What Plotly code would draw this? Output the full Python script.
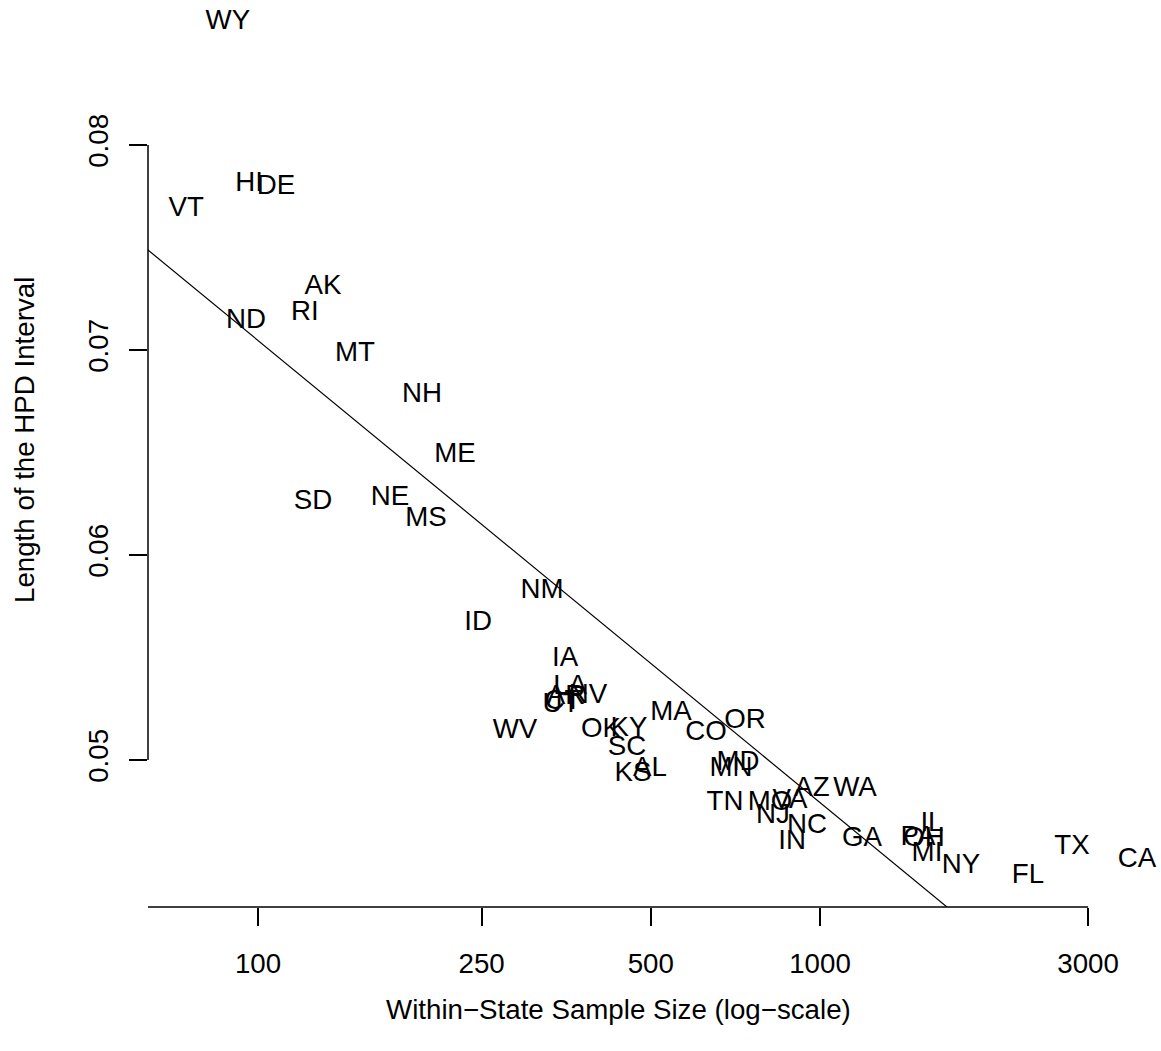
import numpy as np
import plotly.graph_objects as go

states = ["WY","HI","DE","VT","AK","RI","ND","MT","NH","ME","SD","NE","MS","NM","ID",
          "IA","LA","AR","UT","CT","NV","WV","OK","KY","MA","SC","AL","KS","CO","OR",
          "MD","MN","TN","MO","VA","AZ","WA","NJ","NC","IN","GA","IL","PA","OH","MI",
          "NY","FL","TX","CA"]
sample_size = [88.4, 96.4, 107.7, 74.5, 130.5, 121.2, 95.2, 148.8, 195.8, 224.1, 125.3, 171.7, 199.1, 320.2, 246.4,
               351.9, 359.2, 353.2, 346.0, 349.0, 386.6, 286.6, 407.7, 457.2, 543.0, 453.5, 498.3, 464.9, 626.7, 735.7,
               714.6, 694.4, 677.6, 814.7, 884.5, 967.8, 1154, 824.8, 948.2, 891.9, 1188, 1582, 1494, 1531, 1550,
               1782, 2345, 2808, 3665]
hpd_length = [0.08600, 0.07810, 0.07795, 0.07688, 0.07307, 0.07180, 0.07141, 0.06980, 0.06780, 0.06488, 0.06258, 0.06278, 0.06175, 0.05824, 0.05668,
              0.05492, 0.05356, 0.05307, 0.05268, 0.05283, 0.05312, 0.05141, 0.05146, 0.05151, 0.05229, 0.05058, 0.04956, 0.04931, 0.05131, 0.05190,
              0.04985, 0.04956, 0.04790, 0.04790, 0.04800, 0.04858, 0.04858, 0.04727, 0.04678, 0.04600, 0.04614, 0.04688, 0.04620, 0.04614, 0.04541,
              0.04483, 0.04434, 0.04575, 0.04512]

fit_intercept = 0.11555
fit_slope = -0.022542  # per log10 unit

x_ticks = [100, 250, 500, 1000, 3000]
y_ticks = [0.05, 0.06, 0.07, 0.08]

FONT = "Liberation Sans, Arial, Helvetica, sans-serif"
FS = 27.7

# body margin removed by post_script, so figure coordinates = page coordinates
W, H = 1161, 1051
ml, mr, mt, mb = 148, 0, 0, 144
xr = [1.8043, 3.6068]
yr = [0.04283, 0.087073]
pw, ph = W - ml - mr, H - mt - mb

fig = go.Figure()

lx = np.logspace(1.70, 3.7, 50)
ly = fit_intercept + fit_slope * np.log10(lx)
fig.add_trace(go.Scatter(x=lx, y=ly, mode="lines", line=dict(color="black", width=1.2),
                         hoverinfo="skip", showlegend=False))

fig.add_trace(go.Scatter(x=sample_size, y=hpd_length, mode="text", text=states,
                         textposition="middle center",
                         textfont=dict(family=FONT, size=FS, color="black"),
                         cliponaxis=False, showlegend=False))

# axis lines (R style)
fig.add_shape(type="line", xref="paper", yref="y", x0=0, x1=0, y0=y_ticks[0], y1=y_ticks[-1],
              line=dict(color="black", width=1.5))
x_end = (np.log10(x_ticks[-1]) - xr[0]) / (xr[1] - xr[0])
fig.add_shape(type="line", xref="paper", yref="paper", x0=0, x1=x_end, y0=0, y1=0,
              line=dict(color="black", width=1.5))

fig.update_xaxes(type="log", range=xr, tickvals=x_ticks, ticktext=[str(v) for v in x_ticks],
                 ticks="outside", ticklen=18, tickwidth=1.5, tickcolor="black",
                 showgrid=False, zeroline=False, showline=False,
                 tickfont=dict(family=FONT, size=FS, color="black"), ticklabelstandoff=14)
fig.update_yaxes(range=yr, tickvals=y_ticks, ticktext=["0.05", "0.06", "0.07", "0.08"],
                 ticks="outside", ticklen=18, tickwidth=1.5, tickcolor="black", tickangle=-90,
                 showgrid=False, zeroline=False, showline=False,
                 tickfont=dict(family=FONT, size=FS, color="black"), ticklabelstandoff=10)

fig.add_annotation(text="Within\u2212State Sample Size (log\u2212scale)", xref="paper", yref="paper",
                   x=(618 - ml) / pw, y=-(1009 - (H - mb)) / ph,
                   showarrow=False, font=dict(family=FONT, size=FS, color="black"),
                   xanchor="center", yanchor="middle")
fig.add_annotation(text="Length of the HPD Interval", xref="paper", yref="paper",
                   x=-(ml - 25) / pw, y=((H - mb) - 440) / ph,
                   showarrow=False, textangle=-90, font=dict(family=FONT, size=FS, color="black"),
                   xanchor="center", yanchor="middle")

fig.update_layout(width=W, height=H, margin=dict(l=ml, r=mr, t=mt, b=mb, autoexpand=False),
                  paper_bgcolor="white", plot_bgcolor="white", showlegend=False)

fig.write_html("out.html", config={"displayModeBar": False},
               post_script="document.body.style.margin='0';document.body.style.overflow='hidden';")
